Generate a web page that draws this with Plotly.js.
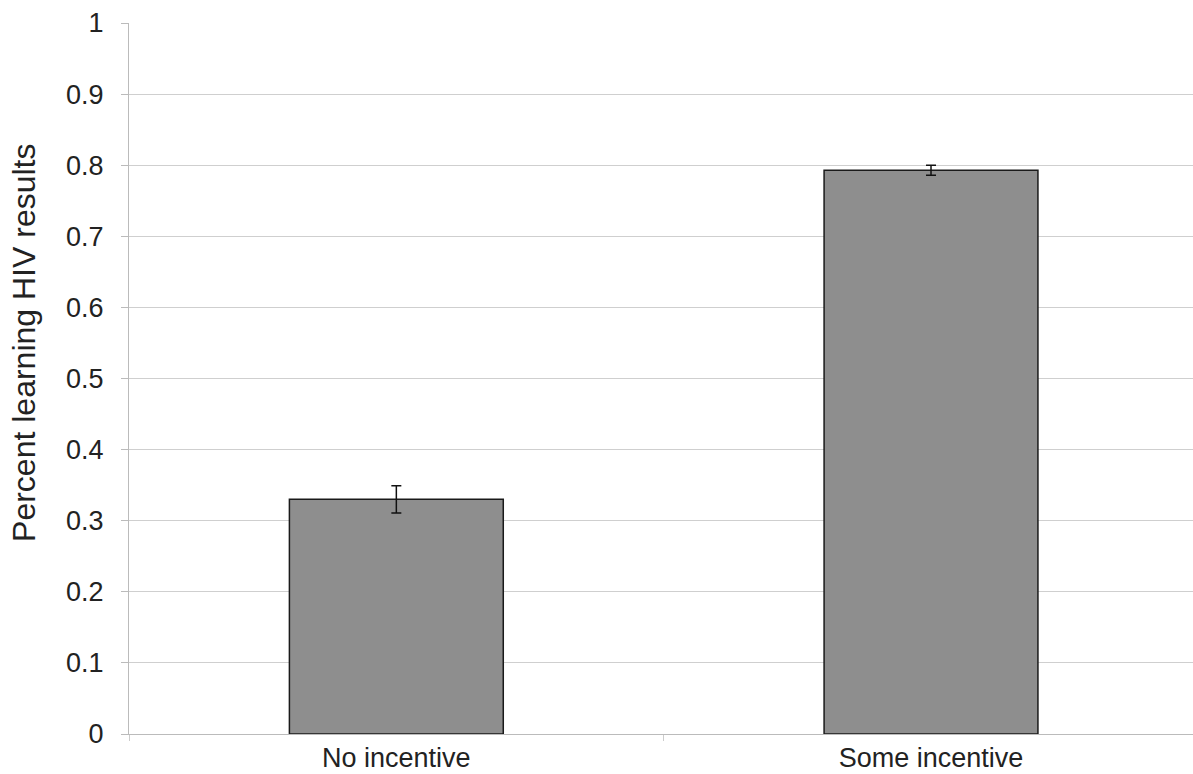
<!DOCTYPE html>
<html>
<head>
<meta charset="utf-8">
<script src="https://cdn.plot.ly/plotly-3.0.1.min.js"></script>
<style>html,body{margin:0;padding:0;background:#fff;}#chart{width:1193px;height:774px;}</style>
</head>
<body>
<div id="chart"></div>
<script>
const categories = ["No incentive", "Some incentive"];
const values = [0.33, 0.793];
const errors = [0.019, 0.007];
const yTicks = [0, 0.1, 0.2, 0.3, 0.4, 0.5, 0.6, 0.7, 0.8, 0.9, 1];
const yTickLabels = ["0", "0.1", "0.2", "0.3", "0.4", "0.5", "0.6", "0.7", "0.8", "0.9", "1"];
const yTitle = "Percent learning HIV results";

const trace = {
  type: "bar",
  x: categories,
  y: values,
  width: 0.4,
  marker: {color: "#8e8e8e", line: {color: "#1a1a1a", width: 1.5}},
  error_y: {type: "data", array: errors, visible: true, color: "#111", thickness: 1.5, width: 5}
};

const layout = {
  width: 1193, height: 774,
  margin: {l: 129, r: 0, t: 23, b: 40},
  paper_bgcolor: "#fff", plot_bgcolor: "#fff",
  font: {family: "Liberation Sans, Arial, sans-serif", color: "#222"},
  showlegend: false,
  xaxis: {
    type: "category",
    range: [-0.5, 1.49],
    showline: true, linecolor: "#bbbbbb", linewidth: 1,
    ticks: "outside", tickson: "boundaries", ticklen: 6, tickcolor: "#cccccc",
    tickfont: {size: 27, color: "#222"},
    showgrid: false
  },
  yaxis: {
    range: [0, 1],
    tickvals: yTicks, ticktext: yTickLabels,
    tickfont: {size: 27, color: "#222"},
    ticks: "outside", ticklen: 7, tickcolor: "#bbbbbb",
    ticklabelstandoff: 12,
    showgrid: true, gridcolor: "#cfcfcf", gridwidth: 1,
    showline: true, linecolor: "#bbbbbb", linewidth: 1,
    zeroline: false
  },
  annotations: [{
    text: yTitle, textangle: -90, showarrow: false,
    xref: "paper", yref: "paper", x: -0.0987, y: 0.55,
    xanchor: "center", yanchor: "middle",
    font: {size: 32, color: "#222"}
  }]
};

Plotly.newPlot("chart", [trace], layout, {displayModeBar: false, staticPlot: true});
</script>
</body>
</html>
